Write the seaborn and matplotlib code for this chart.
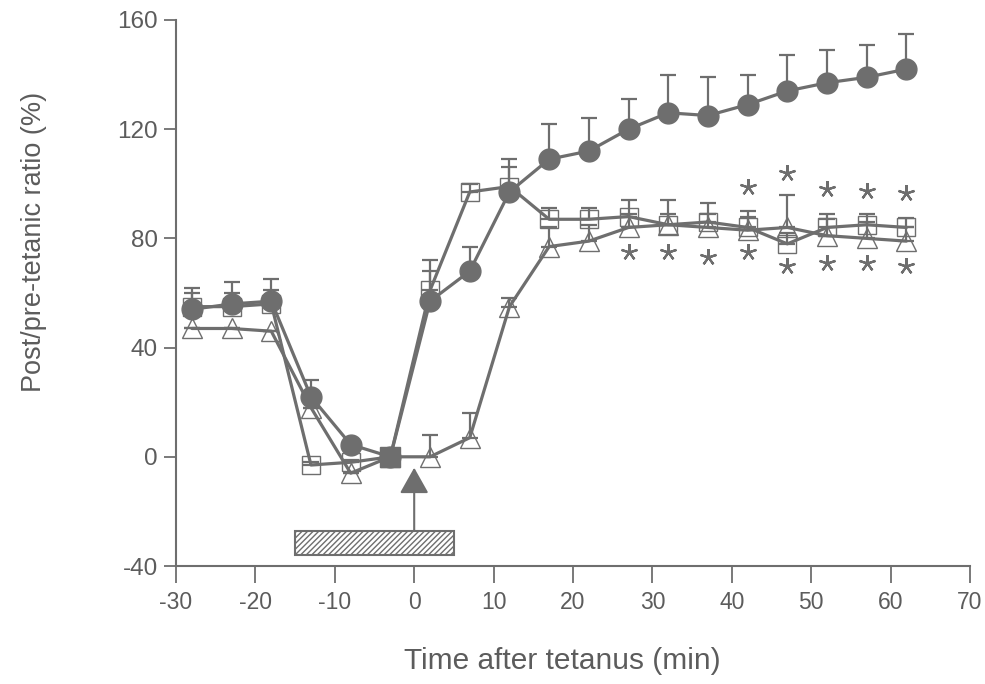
import matplotlib
matplotlib.use("Agg")
import matplotlib.pyplot as plt
import numpy as np
import pandas as pd
import seaborn as sns
from matplotlib.patches import Rectangle

# Time points (min after tetanus)
time_min = [-28, -23, -18, -13, -8, -3, 2, 7, 12, 17, 22, 27, 32, 37, 42, 47, 52, 57, 62]

# Filled circles
circle_vals = [54, 56, 57, 22, 4.5, 0, 57, 68, 97, 109, 112, 120, 126, 125, 129, 134, 137, 139, 142]
circle_err = [8, 8, 8, 6, 0, 0, 15, 9, 12, 13, 12, 11, 14, 14, 11, 13, 12, 12, 13]

# Open squares
square_vals = [55, 55, 56, -3, -2, 0, 61, 97, 99, 87, 87, 88, 85, 86, 84, 78, 84, 85, 84]
square_err = [5, 5, 5, 1, 1, 0, 7, 3, 7, 4, 4, 6, 9, 7, 6, 4, 5, 4, 3.5]

# Open triangles
triangle_vals = [47, 47, 46, 18, -6, 0, 0, 7, 55, 77, 79, 84, 85, 84, 83, 84, 81, 80, 79]
triangle_err = [0, 0, 0, 0, 0, 0, 8, 9, 3, 7, 6, 5, 4, 5, 5, 12, 6, 6, 5]

# Significance markers
star_upper_x = [42, 47, 52, 57, 62]
star_upper_y = [99, 104, 98, 97.5, 96.5]
star_lower_x = [27, 32, 37, 42, 47, 52, 57, 62]
star_lower_y = [75, 75, 73, 75, 70, 71, 71, 70]

# Tetanus / stimulation period
stim_start, stim_end = -15, 5
tetanus_time = 0

x_ticks = [-30, -20, -10, 0, 10, 20, 30, 40, 50, 60, 70]
y_ticks = [-40, 0, 40, 80, 120, 160]

gray = "#6e6e6e"
text_gray = "#5c5c5c"

sns.set_style("ticks")
plt.rcParams["font.family"] = ["Liberation Sans", "DejaVu Sans"]

fig = plt.figure(figsize=(9.85, 6.84), dpi=100)
ax = fig.add_axes([0.1787, 0.1725, 0.806, 0.7983])

df = pd.DataFrame({
    "time": time_min * 3,
    "value": triangle_vals + square_vals + circle_vals,
    "err": triangle_err + square_err + circle_err,
    "group": ["triangle"] * len(time_min) + ["square"] * len(time_min) + ["circle"] * len(time_min),
})

styles = {
    "triangle": dict(marker="^", ms=15, mfc="none", mec=gray, mew=1.0, z=2),
    "square": dict(marker="s", ms=13, mfc="none", mec=gray, mew=1.0, z=3),
    "circle": dict(marker="o", ms=15, mfc=gray, mec=gray, mew=1.0, z=4),
}

for name, st in styles.items():
    sub = df[df["group"] == name]
    ax.errorbar(sub["time"], sub["value"], yerr=[np.zeros(len(sub)), sub["err"]],
                fmt="none", ecolor=gray, elinewidth=1.6, capsize=6, capthick=1.6,
                zorder=st["z"])
    sns.lineplot(data=sub, x="time", y="value", ax=ax, color=gray, linewidth=2.3,
                 marker=st["marker"], markersize=st["ms"], markerfacecolor=st["mfc"],
                 markeredgecolor=st["mec"], markeredgewidth=st["mew"], zorder=st["z"])

# shared baseline point drawn as filled square
ax.plot([time_min[5]], [square_vals[5]], marker="s", ms=14, color=gray, zorder=5)

ax.plot(star_upper_x, star_upper_y, ls="none", marker=(5, 2, 0), ms=12, mew=1.6,
        color=gray, zorder=5)
ax.plot(star_lower_x, star_lower_y, ls="none", marker=(5, 2, 0), ms=12, mew=1.6,
        color=gray, zorder=5)

ax.add_patch(Rectangle((stim_start, -36), stim_end - stim_start, 9, fill=False,
                       hatch="//////", edgecolor=gray, linewidth=1.5))
ax.annotate("", xy=(tetanus_time, -4), xytext=(tetanus_time, -27),
            arrowprops=dict(arrowstyle="-|>,head_width=0.45,head_length=0.8",
                            mutation_scale=20, color=gray, lw=1.5,
                            shrinkA=0, shrinkB=0))

ax.set_xlim(-30, 70)
ax.set_ylim(-40, 160)
ax.set_xticks(x_ticks)
ax.set_yticks(y_ticks)
ax.set_xticklabels([str(t) for t in x_ticks])
ax.set_yticklabels([str(t) for t in y_ticks])
sns.despine(ax=ax)
for side in ["left", "bottom"]:
    ax.spines[side].set_color(gray)
    ax.spines[side].set_linewidth(1.5)
ax.tick_params(axis="x", direction="out", length=12, width=1.3, colors=gray,
               labelcolor=text_gray, labelsize=16.5, pad=6)
ax.tick_params(axis="y", direction="out", length=9, width=1.3, colors=gray,
               labelcolor=text_gray, labelsize=17.5, pad=4)

ax.set_xlabel("Time after tetanus (min)", fontsize=21.5, color=text_gray)
ax.set_ylabel("Post/pre-tetanic ratio (%)", fontsize=19.5, color=text_gray)
ax.xaxis.set_label_coords(0.487, -0.148)
ax.yaxis.set_label_coords(-0.162, 0.593)
if ax.get_legend() is not None:
    ax.get_legend().remove()

fig.savefig("out.png", dpi=100)
